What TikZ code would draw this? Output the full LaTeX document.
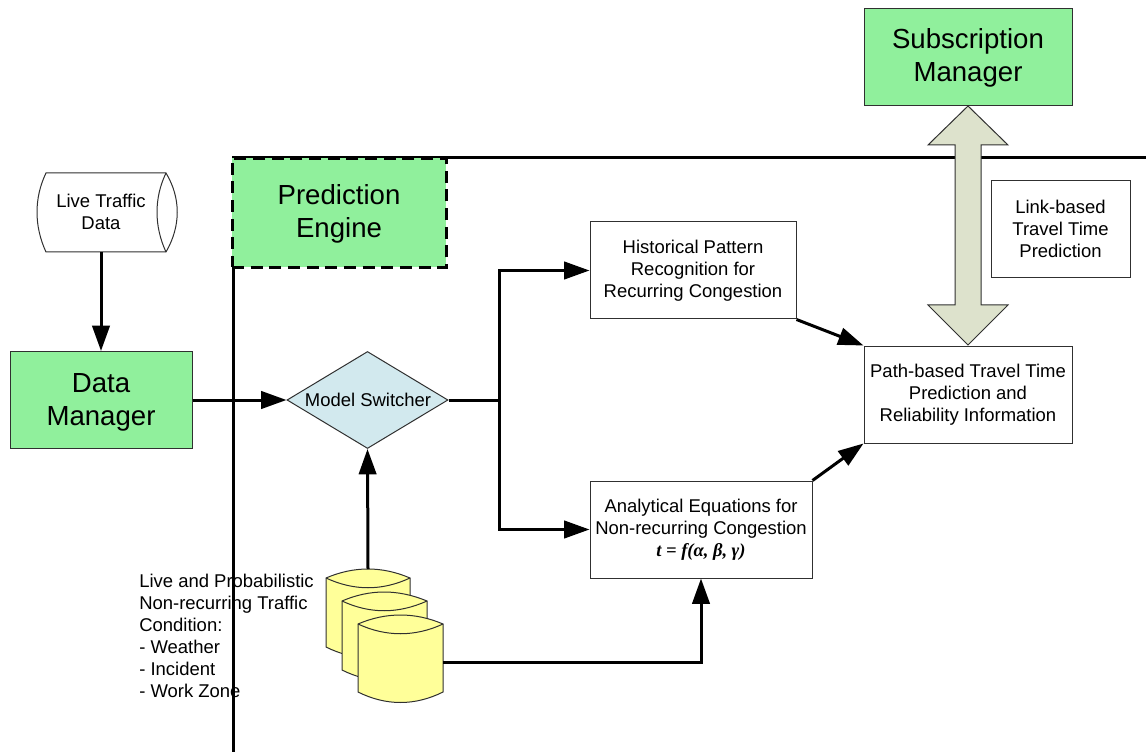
\documentclass[tikz,border=0pt]{standalone}
\usepackage{fontspec}
\setmainfont{Liberation Sans}
\newfontfamily\formulafont{Liberation Serif}
\usetikzlibrary{arrows.meta,shapes.geometric}
\definecolor{boxgreen}{HTML}{90F09C}
\definecolor{paleblue}{HTML}{D2E9EE}
\definecolor{paleyellow}{HTML}{FFFF99}
\definecolor{palesage}{HTML}{DDE2CC}
\definecolor{edgegray}{HTML}{303030}
\newcommand{\dropline}{\rule{0pt}{16.4pt}}
\tikzset{
  txt/.style={font=\fontsize{13.85}{16.5}\selectfont,align=center,text=black,inner sep=0pt},
  bigtxt/.style={font=\fontsize{20.7}{25}\selectfont,align=center,text=black,inner sep=0pt},
  plainbox/.style={txt,draw=edgegray,line width=0.75pt,fill=white,rectangle},
  greenbox/.style={bigtxt,draw=edgegray,line width=0.75pt,fill=boxgreen,rectangle},
  flow/.style={line width=2.25pt,draw=black,-{Triangle[length=19pt,width=13pt]}},
  flowplain/.style={line width=2.25pt,draw=black},
  thin outline/.style={draw=edgegray,line width=0.75pt},
}
\begin{document}
\begin{tikzpicture}[x=0.75pt,y=-0.75pt]
\useasboundingbox (0,0) rectangle (1146,752);
% boundary of the engine
\coordinate (corner) at (233,157.5);
\coordinate (topend) at (1146,157.5);
\coordinate (botend) at (233,752);
\draw[flowplain] (topend) -- (corner) -- (botend);
% boxes
\node[greenbox,minimum width=156pt,minimum height=72.75pt] (sub) at (968,57) {\dropline Subscription\\Manager};
\node[greenbox,minimum width=136.5pt,minimum height=72.75pt] (data) at (101,400) {\rule{0pt}{17.6pt}Data\\Manager};
\node[bigtxt,fill=boxgreen,draw=black,line width=2.25pt,dash pattern=on 9pt off 5pt,minimum width=160.5pt,minimum height=81.75pt] (engine) at (339,213) {\dropline Prediction\\Engine};
\node[plainbox,minimum width=104.25pt,minimum height=72.75pt] (link) at (1060.5,229) {Link-based\\Travel Time\\Prediction};
\node[plainbox,minimum width=156pt,minimum height=72.75pt] (path) at (968,394.5) {Path-based Travel Time\\Prediction and\\Reliability Information};
\node[plainbox,minimum width=154.5pt,minimum height=72.75pt] (hist) at (693,270.5) {Historical Pattern\\Recognition for\\Recurring Congestion};
\node[plainbox,minimum width=166.5pt,minimum height=72.75pt] (ana) at (701,529.5) {Analytical Equations for\\Non-recurring Congestion\\{\formulafont\bfseries\itshape t = f(α, β, γ)}};
\node[txt,diamond,aspect=1.66,draw=edgegray,line width=0.75pt,fill=paleblue,minimum width=120.75pt,minimum height=72.75pt] (switch) at (367.5,400) {};
\node[txt] at (368,400) {Model Switcher};
% live traffic drum
\draw[thin outline,fill=white] (46,173) -- (166,173) .. controls (181,198) and (181,226) .. (166,252) -- (46,252) .. controls (34,226) and (34,198) .. (46,173) -- cycle;
\draw[thin outline] (166,173) .. controls (154,198) and (154,226) .. (166,252);
\node[txt,minimum width=90pt,minimum height=59.25pt] (live) at (101,212) {Live Traffic\\Data};
% database stack
\coordinate (dbtop) at (368,569);
\coordinate (dbout) at (443,662);
\draw[thin outline,fill=paleyellow] (326,578) .. controls (354,566) and (382,566) .. (410,578) -- (410,647) .. controls (382,661) and (354,661) .. (326,647) -- cycle;
\draw[thin outline] (326,578) .. controls (354,591) and (382,591) .. (410,578);
\draw[thin outline,fill=paleyellow] (342,601) .. controls (370,589) and (398,589) .. (427,601) -- (427,670) .. controls (398,684) and (370,684) .. (342,670) -- cycle;
\draw[thin outline] (342,601) .. controls (370,614) and (398,614) .. (427,601);
\draw[thin outline,fill=paleyellow] (358,624) .. controls (386,612) and (415,612) .. (443,624) -- (443,692) .. controls (415,706) and (386,706) .. (358,692) -- cycle;
\draw[thin outline] (358,624) .. controls (386,637) and (415,637) .. (443,624);
% double arrow
\coordinate (dtop) at (968,106);
\coordinate (dbot) at (968,345);
\draw[thin outline,fill=palesage] (dtop) -- (1008,145) -- (981,145) -- (981,305) -- (1008,305) -- (dbot) -- (928,305) -- (955,305) -- (955,145) -- (928,145) -- cycle;
% connectors
\coordinate (branch) at (499,400);
\draw[flow] (live.south) -- (data.north -| live.south);
\draw[flow] (data.east |- switch.west) -- (switch.west);
\draw[flowplain] (switch.east) -- (branch);
\draw[flow] (branch) -- (branch |- hist.west) -- (hist.west);
\draw[flow] (branch) -- (branch |- ana.west) -- (ana.west);
\draw[flow] (dbtop) -- (switch.south);
\draw[flow] (dbout) -- (ana.south |- dbout) -- (ana.south);
\draw[flow] (hist.south east) -- (path.north west);
\draw[flow] (ana.north east) -- (path.south west);
% condition list
\node[font=\fontsize{13.85}{16.5}\selectfont,align=left,anchor=north west,inner sep=0pt] (cond) at (139,574) {Live and Probabilistic\\Non-recurring Traffic\\Condition:\\- Weather\\- Incident\\- Work Zone};
\end{tikzpicture}
\end{document}
